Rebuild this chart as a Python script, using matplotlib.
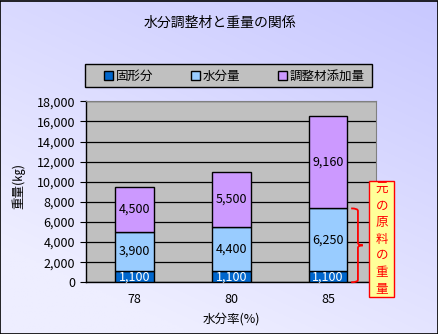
import numpy as np
import matplotlib
matplotlib.use("Agg")
import matplotlib.pyplot as plt
from matplotlib.patches import Rectangle, PathPatch
from matplotlib.path import Path

plt.rcParams['font.family'] = ['Noto Sans CJK JP', 'DejaVu Sans']

categories = ["78", "80", "85"]
solids = [1100, 1100, 1100]
water = [3900, 4400, 6250]
additive = [4500, 5500, 9160]
series_names = ["固形分", "水分量", "調整材添加量"]
colors = ["#0066CC", "#99CCFF", "#CC99FF"]
yticks = list(range(0, 18001, 2000))

W, H = 439, 334
fig = plt.figure(figsize=(W / 100, H / 100), dpi=100)

# gradient backdrop for the whole chart area
bg = fig.add_axes([0, 0, 1, 1], zorder=-10)
gx, gy = np.meshgrid(np.linspace(0, 1, 200), np.linspace(0, 1, 200))
t = np.clip((1 - gx) * 0.45 + gy * 0.75, 0, 1)  # 0 at top-right, 1 at bottom-left
top = np.array([0xC8, 0xC8, 0xFF]) / 255
bot = np.array([0xEE, 0xEE, 0xFF]) / 255
img = top[None, None, :] * (1 - t[..., None]) + bot[None, None, :] * t[..., None]
bg.imshow(img, extent=[0, 1, 0, 1], aspect='auto', origin='upper')
bg.set_axis_off()
fig.patches.append(Rectangle((0.5 / W, 0.5 / H), 1 - 1.5 / W, 1 - 1.5 / H,
                             transform=fig.transFigure, fill=False,
                             edgecolor='black', linewidth=1.2))

ax = fig.add_axes([86.3 / W, 1 - 282.3 / H, 290 / W, 181 / H])
ax.set_facecolor('#C0C0C0')
x = np.arange(len(categories))
width = 0.4
b1 = ax.bar(x, solids, width, color=colors[0], edgecolor='black', linewidth=1.0,
            label=series_names[0], zorder=3)
b2 = ax.bar(x, water, width, bottom=solids, color=colors[1], edgecolor='black',
            linewidth=1.0, label=series_names[1], zorder=3)
base3 = [a + b for a, b in zip(solids, water)]
b3 = ax.bar(x, additive, width, bottom=base3, color=colors[2], edgecolor='black',
            linewidth=1.0, label=series_names[2], zorder=3)

for i in range(len(categories)):
    ax.text(x[i], solids[i] / 2, f"{solids[i]:,}", ha='center', va='center',
            color='white', fontsize=9, zorder=4)
    ax.text(x[i], solids[i] + water[i] / 2, f"{water[i]:,}", ha='center',
            va='center', color='black', fontsize=9, zorder=4)
    ax.text(x[i], base3[i] + additive[i] / 2, f"{additive[i]:,}", ha='center',
            va='center', color='black', fontsize=9, zorder=4)

ax.set_xlim(-0.5, 2.5)
ax.set_ylim(0, 18000)
ax.set_yticks(yticks)
ax.set_yticklabels([f"{v:,}" for v in yticks], fontsize=9)
ax.set_xticks(x)
ax.set_xticklabels(categories, fontsize=9)
ax.tick_params(axis='x', length=0, pad=8)
ax.tick_params(axis='y', length=4, width=0.8, color='black', pad=4, direction='out')
ax.yaxis.grid(True, color='black', linewidth=0.9, zorder=1)
ax.set_axisbelow(True)
for s in ['top', 'right']:
    ax.spines[s].set_color('#808080')
    ax.spines[s].set_linewidth(0.8)
for s in ['left', 'bottom']:
    ax.spines[s].set_color('black')
    ax.spines[s].set_linewidth(1.0)

ax.set_ylabel("重量(㎏)", fontsize=9)
ax.yaxis.set_label_coords(-(86.3 - 19) / 290, 0.53)
ax.yaxis.label.set_va('center')
ax.set_xlabel("水分率(%)", fontsize=9)
ax.xaxis.set_label_coords(0.5, -(319 - 282.3) / 181)
ax.xaxis.label.set_va('center')

fig.text(220 / W, 1 - 22.7 / H, "水分調整材と重量の関係", ha='center', va='center',
         fontsize=10)

# legend frame drawn separately so the entries keep their own spacing
lx0, lx1, ly0, ly1 = 85.3, 371.7, 64.3, 87.3
fig.patches.append(Rectangle((lx0 / W, 1 - ly1 / H), (lx1 - lx0) / W, (ly1 - ly0) / H,
                             transform=fig.transFigure, facecolor='#C0C0C0',
                             edgecolor='black', linewidth=1.0, zorder=1))
leg = fig.legend(handles=[b1, b2, b3], labels=series_names, ncol=3,
                 loc='center left', bbox_to_anchor=(104 / W, 1 - 76 / H),
                 fontsize=9, frameon=False, handlelength=0.7,
                 handleheight=0.7, handletextpad=0.25, columnspacing=3.0,
                 borderpad=0, borderaxespad=0)
leg.set_zorder(2)

# curly brace spanning the original material (solids + water) of the last bar
top_y = solids[2] + water[2]
mid_y = top_y / 2
xl, xm, xt = 2.24, 2.31, 2.36
h = 250
verts = [
    (xl, top_y), (xm, top_y), (xm, top_y - h),
    (xm, mid_y + h),
    (xm, mid_y), (xt, mid_y), (xt, mid_y),
    (xm, mid_y), (xm, mid_y - h),
    (xm, h),
    (xm, 0), (xl, 0), (xl, 0),
]
codes = [Path.MOVETO, Path.CURVE3, Path.CURVE3, Path.LINETO,
         Path.CURVE3, Path.CURVE3, Path.MOVETO,
         Path.CURVE3, Path.CURVE3, Path.LINETO,
         Path.CURVE3, Path.CURVE3, Path.LINETO]
ax.add_patch(PathPatch(Path(verts, codes), fill=False, edgecolor='red',
                       linewidth=1.3, clip_on=False, zorder=5))

# callout box with vertical caption
bx0, bx1, by0, by1 = 369.3, 394.3, 181.3, 297.3
fig.patches.append(Rectangle((bx0 / W, 1 - by1 / H), (bx1 - bx0) / W, (by1 - by0) / H,
                             transform=fig.transFigure, facecolor='#FFFF99',
                             edgecolor='red', linewidth=1.0, zorder=6))
caption = "元の原料の重量"
n = len(caption)
for k, ch in enumerate(caption):
    yy = by0 + (by1 - by0) * (k + 0.5) / n
    fig.text((bx0 + bx1) / 2 / W, 1 - yy / H, ch, ha='center', va='center',
             color='red', fontsize=9, zorder=7)

fig.savefig("out.png", dpi=100)
